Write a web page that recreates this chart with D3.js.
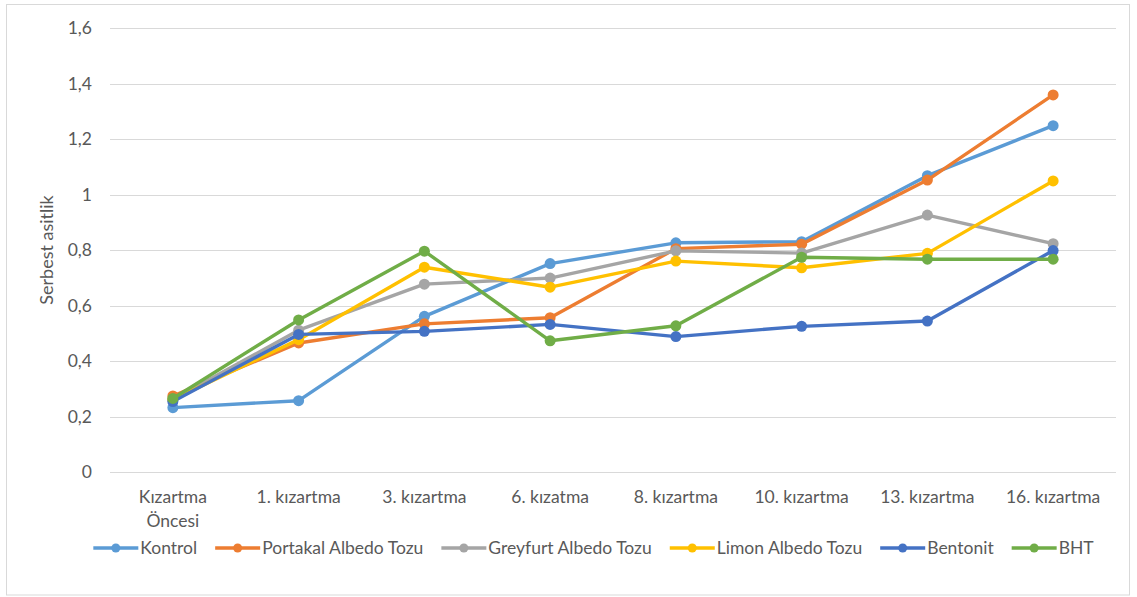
<!DOCTYPE html>
<html>
<head>
<meta charset="utf-8">
<script src="https://cdn.jsdelivr.net/npm/d3@7"></script>
<style>
  html, body { margin: 0; padding: 0; background: #fff; }
  svg { display: block; }
  text { font-family: Lato, "Open Sans", sans-serif; fill: #595959; }
</style>
</head>
<body>
<svg id="chart" width="1137" height="597"></svg>
<script>
const categories = ["Kızartma Öncesi", "1. kızartma", "3. kızartma", "6. kızatma", "8. kızartma", "10. kızartma", "13. kızartma", "16. kızartma"];
const seriesNames = ["Kontrol", "Portakal Albedo Tozu", "Greyfurt Albedo Tozu", "Limon Albedo Tozu", "Bentonit", "BHT"];
const kontrol  = [0.233, 0.258, 0.562, 0.752, 0.827, 0.831, 1.069, 1.249];
const portakal = [0.275, 0.466, 0.535, 0.557, 0.806, 0.822, 1.053, 1.360];
const greyfurt = [0.262, 0.512, 0.678, 0.700, 0.798, 0.790, 0.927, 0.824];
const limon    = [0.262, 0.478, 0.739, 0.667, 0.761, 0.737, 0.789, 1.050];
const bentonit = [0.255, 0.497, 0.508, 0.533, 0.489, 0.526, 0.545, 0.799];
const bht      = [0.266, 0.549, 0.797, 0.474, 0.528, 0.775, 0.768, 0.768];
const yTicks = [0, 0.2, 0.4, 0.6, 0.8, 1, 1.2, 1.4, 1.6];
const colors = ["#5B9BD5", "#ED7D31", "#A5A5A5", "#FFC000", "#4472C4", "#70AD47"];
const yTitle = "Serbest asitlik";

const allSeries = [kontrol, portakal, greyfurt, limon, bentonit, bht].map((v, i) => ({ name: seriesNames[i], values: v, color: colors[i] }));

const FS = "17.5px";
const svg = d3.select("#chart");
const margin = { left: 110, right: 1116, top: 28.3, bottom: 472.3 };

// frame
svg.append("rect").attr("x", 6.5).attr("y", 4.5).attr("width", 1123).attr("height", 590.5)
  .attr("fill", "#fff").attr("stroke", "#D9D9D9").attr("stroke-width", 1);

const x = d3.scaleBand().domain(categories).range([margin.left, margin.right]).padding(0);
const y = d3.scaleLinear().domain([0, 1.6]).range([margin.bottom, margin.top]);

// gridlines
svg.append("g").selectAll("line").data(yTicks).join("line")
  .attr("x1", margin.left).attr("x2", margin.right)
  .attr("y1", d => Math.round(y(d)) + 0.5).attr("y2", d => Math.round(y(d)) + 0.5)
  .attr("stroke", "#D9D9D9").attr("stroke-width", 1);

// y axis labels
const fmt = d => d3.format("")(d).replace(".", ",");
const yAxis = d3.axisLeft(y).tickValues(yTicks).tickFormat(fmt).tickSize(0).tickPadding(0);
const gy = svg.append("g").attr("transform", `translate(92,0)`).call(yAxis);
gy.select(".domain").remove();
gy.selectAll("text").style("font-size", FS).style("font-family", "Lato, sans-serif").attr("fill", "#595959");

// x axis labels
const xAxis = d3.axisBottom(x).tickSize(0).tickFormat(() => "");
const gx = svg.append("g").attr("transform", `translate(0,${margin.bottom})`).call(xAxis);
gx.select(".domain").remove();
gx.selectAll(".tick").each(function(d) {
  const t = d3.select(this).select("text").text(null).attr("y", 0).attr("dy", null)
    .style("font-size", FS).style("font-family", "Lato, sans-serif").attr("fill", "#595959");
  const parts = d === "Kızartma Öncesi" ? ["Kızartma", "Öncesi"] : [d];
  parts.forEach((p, i) => {
    t.append("tspan").attr("x", 0).attr("y", 31 + i * 24).text(p);
  });
});

// y title
svg.append("text").attr("transform", `translate(53,250) rotate(-90)`)
  .attr("text-anchor", "middle").style("font-size", "18px").text(yTitle);

// lines
const cx = i => x(categories[i]) + x.bandwidth() / 2;
const line = d3.line().x((d, i) => cx(i)).y(d => y(d));
const gs = svg.append("g").selectAll("g").data(allSeries).join("g");
gs.append("path").attr("d", d => line(d.values)).attr("fill", "none")
  .attr("stroke", d => d.color).attr("stroke-width", 3.4).attr("stroke-linejoin", "round").attr("stroke-linecap", "round");
gs.selectAll("circle").data(d => d.values.map(v => ({ v, c: d.color }))).join("circle")
  .attr("cx", (d, i) => cx(i)).attr("cy", d => y(d.v)).attr("r", 5.5).attr("fill", d => d.c);

// legend
const lg = svg.append("g");
const items = lg.selectAll("g").data(allSeries).join("g");
items.append("line").attr("x1", 0).attr("x2", 45).attr("y1", 0).attr("y2", 0)
  .attr("stroke", d => d.color).attr("stroke-width", 3.4);
items.append("circle").attr("cx", 22.5).attr("cy", 0).attr("r", 4.5).attr("fill", d => d.color);
items.append("text").attr("x", 47).attr("y", 0).attr("dy", "0.35em").style("font-size", FS).text(d => d.name);
const gap = 18;
const widths = [];
items.each(function() {
  const w = 47 + d3.select(this).select("text").node().getComputedTextLength();
  widths.push(w);
});
const total = d3.sum(widths) + gap * (widths.length - 1);
let start = 593.5 - total / 2;
items.each(function(d, i) {
  d3.select(this).attr("transform", `translate(${start},548)`);
  start += widths[i] + gap;
});
</script>
</body>
</html>
